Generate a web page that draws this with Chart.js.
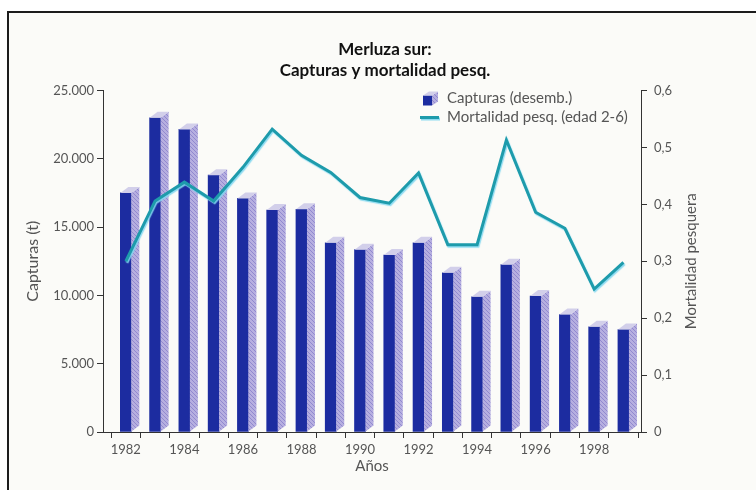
<!DOCTYPE html>
<html>
<head>
<meta charset="utf-8">
<script src="https://cdn.jsdelivr.net/npm/chart.js@4.4.1/dist/chart.umd.min.js"></script>
<style>
  html, body { margin: 0; padding: 0; background: #fff; overflow: hidden; }
  #marco { position: absolute; left: 7px; top: 11px; width: 800px; height: 600px; border: 2px solid #1c1c1c; background: #fbfbf8; }
  #wrap { position: absolute; left: 0; top: 0; width: 756px; height: 490px; }
</style>
</head>
<body>
<div id="marco"></div>
<div id="wrap"><canvas id="myChart"></canvas></div>
<script>
var years = [1982, 1983, 1984, 1985, 1986, 1987, 1988, 1989, 1990, 1991, 1992, 1993, 1994, 1995, 1996, 1997, 1998, 1999];
var capturas = [17500, 23000, 22150, 18800, 17100, 16250, 16300, 13850, 13350, 12950, 13850, 11650, 9900, 12250, 9950, 8600, 7700, 7500];
var mortalidad = [0.300, 0.406, 0.439, 0.406, 0.465, 0.532, 0.486, 0.456, 0.412, 0.402, 0.455, 0.329, 0.329, 0.513, 0.386, 0.358, 0.251, 0.298];

var barColor = '#1c2ca0';
var lineColor = '#1e9bab';

Chart.defaults.font.family = 'Lato';
Chart.defaults.font.size = 13;
Chart.defaults.color = '#555';

var hatch = null;
function sidePattern(ctx) {
    if (hatch) return hatch;
    var c = document.createElement('canvas');
    c.width = 4; c.height = 4;
    var g = c.getContext('2d');
    g.fillStyle = '#b6afe0';
    g.fillRect(0, 0, 4, 4);
    g.strokeStyle = '#9189cf';
    g.lineWidth = 1;
    g.beginPath(); g.moveTo(0, 0); g.lineTo(4, 4); g.stroke();
    hatch = ctx.createPattern(c, 'repeat');
    return hatch;
}

// side and top faces of a bar
function cubo(ctx, l, r, top, bottom, d, h) {
    ctx.fillStyle = sidePattern(ctx);
    ctx.beginPath();
    ctx.moveTo(r, top); ctx.lineTo(r + d, top - h); ctx.lineTo(r + d, bottom - h); ctx.lineTo(r, bottom);
    ctx.closePath(); ctx.fill();
    ctx.fillStyle = '#d2cfea';
    ctx.beginPath();
    ctx.moveTo(l, top); ctx.lineTo(l + d, top - h); ctx.lineTo(r + d, top - h); ctx.lineTo(r, top);
    ctx.closePath(); ctx.fill();
}

var extras = {
    id: 'extras',
    beforeDatasetDraw: function (chart, args) {
        if (args.index !== 1) return;
        chart.ctx.save();
        chart.ctx.shadowColor = 'rgba(130, 215, 240, 0.9)';
        chart.ctx.shadowOffsetX = 1;
        chart.ctx.shadowOffsetY = 1.5;
        chart.ctx.shadowBlur = 1;
    },
    afterDatasetDraw: function (chart, args) {
        var ctx = chart.ctx;
        if (args.index === 1) { ctx.restore(); return; }
        ctx.save();
        args.meta.data.forEach(function (bar) {
            var p = bar.getProps(['x', 'y', 'base', 'width'], true);
            cubo(ctx, p.x - p.width / 2, p.x + p.width / 2, p.y, p.base, 8, 6);
        });
        ctx.restore();
    },
    afterDraw: function (chart) {
        var ctx = chart.ctx, a = chart.chartArea;
        var ds = chart.data.datasets;
        ctx.save();
        // legend
        var x = a.right - 219, y1 = a.top + 8, y2 = a.top + 27;
        ctx.fillStyle = barColor;
        ctx.fillRect(x + 1, y1 - 3, 9, 10);
        cubo(ctx, x + 1, x + 10, y1 - 3, y1 + 7, 6, 4);
        ctx.strokeStyle = 'rgba(130, 215, 240, 0.9)';
        ctx.lineWidth = 3;
        ctx.beginPath(); ctx.moveTo(x - 1, y2 + 1.5); ctx.lineTo(x + 18, y2 + 1.5); ctx.stroke();
        ctx.strokeStyle = lineColor;
        ctx.beginPath(); ctx.moveTo(x - 2, y2); ctx.lineTo(x + 17, y2); ctx.stroke();
        ctx.fillStyle = '#555';
        ctx.font = '15px Lato';
        ctx.textBaseline = 'middle';
        ctx.fillText(ds[0].label, x + 25, y1);
        ctx.fillText(ds[1].label, x + 25, y2);
        // right axis title, reading bottom to top
        ctx.translate(a.right + 50, (a.top + a.bottom) / 2);
        ctx.rotate(-Math.PI / 2);
        ctx.textAlign = 'center';
        ctx.fillText('Mortalidad pesquera', 0, 0);
        ctx.restore();
    }
};

function miles(v) {
    return String(v).replace(/\B(?=(\d{3})+(?!\d))/g, '.');
}

var ctx = document.getElementById('myChart');

var myChart = new Chart(ctx, {
    type: 'bar',
    data: {
        datasets: [{
            label: 'Capturas (desemb.)',
            data: years.map(function (yr, i) { return { x: yr, y: capturas[i] }; }),
            backgroundColor: barColor,
            barThickness: 11,
            yAxisID: 'y',
            order: 2
        }, {
            type: 'line',
            label: 'Mortalidad pesq. (edad 2-6)',
            data: years.map(function (yr, i) { return { x: yr, y: mortalidad[i] }; }),
            borderColor: lineColor,
            borderWidth: 3,
            pointRadius: 0,
            tension: 0,
            yAxisID: 'y1',
            order: 1
        }]
    },
    options: {
        responsive: true,
        maintainAspectRatio: false,
        animation: false,
        layout: { padding: { top: 14, left: 14, right: 0, bottom: 10 } },
        plugins: {
            legend: { display: false },
            tooltip: { enabled: false },
            title: {
                display: true,
                text: ['Merluza sur:', 'Capturas y mortalidad pesq.'],
                color: '#111',
                font: { size: 17, weight: 'bold', lineHeight: 1.25 },
                padding: { top: 25, bottom: 9 }
            }
        },
        scales: {
            x: {
                type: 'linear',
                min: 1981.22,
                max: 1999.6,
                offset: false,
                bounds: 'data',
                afterBuildTicks: function (scale) {
                    scale.ticks = years.map(function (yr) { return { value: yr }; });
                },
                afterFit: function (scale) { scale.height = 48; },
                ticks: {
                    autoSkip: false,
                    maxRotation: 0,
                    padding: 4,
                    callback: function (v) { return v % 2 === 0 ? String(v) : ''; }
                },
                grid: { offset: true, drawOnChartArea: false, tickLength: 6, color: '#333' },
                border: { color: '#333' },
                title: { display: true, text: 'Años', font: { size: 15 }, padding: { top: 0, bottom: 5 } }
            },
            y: {
                position: 'left',
                min: 0,
                max: 25000,
                afterFit: function (scale) { scale.width = 89; },
                ticks: { stepSize: 5000, padding: 3, callback: function (v) { return miles(v); } },
                grid: { drawOnChartArea: false, tickLength: 6, color: '#333' },
                border: { color: '#333' },
                title: { display: true, text: 'Capturas (t)', font: { size: 16 }, padding: { top: 9, bottom: 0 } }
            },
            y1: {
                position: 'right',
                min: 0,
                max: 0.6,
                afterFit: function (scale) { scale.width = 115; },
                ticks: {
                    stepSize: 0.1,
                    padding: 7,
                    callback: function (v) { return v === 0 ? '0' : v.toFixed(1).replace('.', ','); }
                },
                grid: { drawOnChartArea: false, tickLength: 6, color: '#333' },
                border: { color: '#333' }
            }
        }
    },
    plugins: [extras]
});
</script>
</body>
</html>
